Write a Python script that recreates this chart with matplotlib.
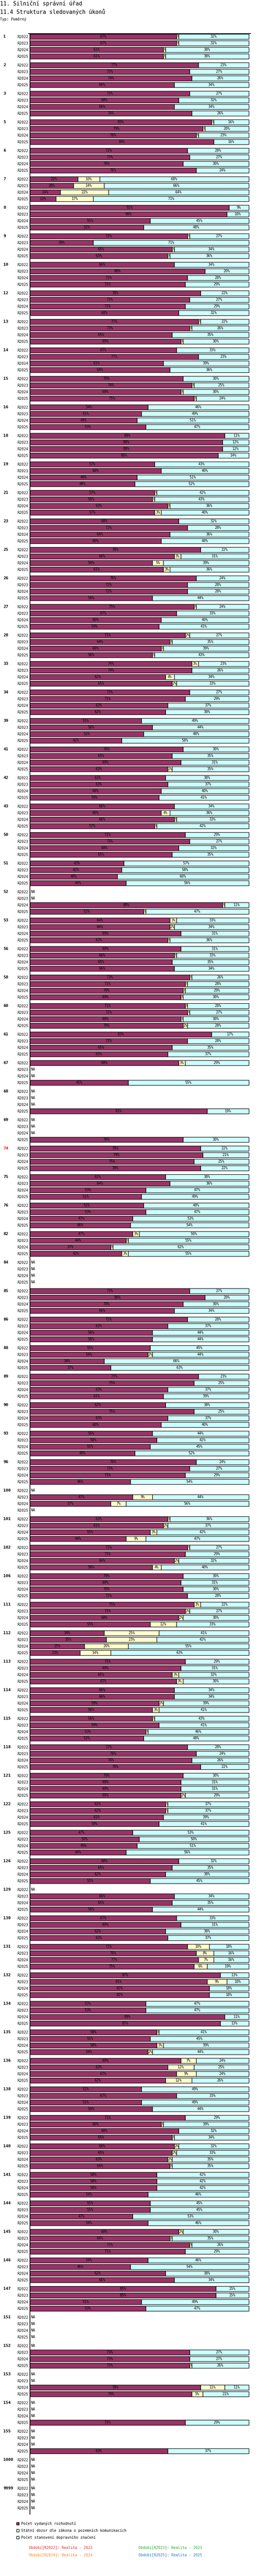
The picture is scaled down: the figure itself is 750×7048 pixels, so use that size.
"""
plot.py — 11.4 Struktura sledovaných úkonů (typ: poměrný)

Horizontal 100 % stacked bars, four periods per office, saved to out.png.

Run:
    python3 plot.py
"""

import matplotlib

matplotlib.use("Agg")
import matplotlib.pyplot as plt
from matplotlib.transforms import TransformedBbox, blended_transform_factory

NA = None

# ── data ───────────────────────────────────────────────────────────────────
GROUPS = [
    "1", "2", "3", "5", "6", "7", "8", "9", "10", "12",
    "13", "14", "15", "16", "18", "19", "21", "23", "25",
    "26", "27", "28", "33", "34", "39", "41", "42", "43",
    "50", "51", "52", "53", "56", "58", "60", "61", "67",
    "68", "69", "74", "75", "76", "82", "84", "85", "86",
    "88", "89", "90", "93", "96", "100", "101", "102", "106",
    "111", "112", "113", "114", "115", "118", "121", "122", "125",
    "126", "129", "130", "131", "132", "134", "135", "136",
    "138", "139", "140", "141", "144", "145", "146", "147", "151",
    "152", "153", "154", "155", "1000", "9999",
]
YEARS = ["R2022", "R2023", "R2024", "R2025"]
HIGHLIGHT = ["74"]

SERIES_NAMES = [
    "Počet vydaných rozhodnutí",
    "Státní dozor dle zákona o pozemních komunikacích",
    "Počet stanovení dopravního značení",
]
PERIODS = [
    "Období[R2022]: Realita - 2022",
    "Období[R2023]: Realita - 2023",
    "Období[R2024]: Realita - 2024",
    "Období[R2025]: Realita - 2025",
]

# share in %, one list of four periods (R2022..R2025) per group
ROZHODNUTI = [
    [67, 67, 61, 61], [77, 73, 74, 66], [73, 68, 66, 74], [83, 79, 76, 84],
    [72, 73, 70, 76], [22, 20, 14, 12], [91, 90, 55, 52], [72, 29, 65, 63],
    [66, 80, 72, 71], [78, 73, 71, 68],
    [77, 73, 65, 69], [67, 77, 61, 64], [70, 74, 69, 75], [54, 51, 49, 53],
    [89, 88, 88, 86], [57, 60, 49, 48], [57, 56, 63, 57], [68, 72, 64, 60],
    [78, 66, 56, 61],
    [76, 72, 72, 56], [75, 67, 60, 59], [71, 64, 60, 56], [74, 74, 62, 65],
    [73, 71, 63, 62], [51, 56, 52, 42], [70, 65, 69, 63], [62, 63, 60, 59],
    [66, 60, 66, 57],
    [71, 73, 68, 65], [43, 42, 40, 44], [NA, NA, 88, 52], [64, 64, 69, 63],
    [69, 66, 65, 66], [73, 71, 70, 69], [71, 72, 69, 70], [83, 72, 65, 63],
    [68, NA, NA, 45],
    [NA, NA, NA, 81], [NA, NA, NA, 70], [78, 79, 75, 78], [62, 64, 53, 51],
    [52, 53, 47, 46], [47, 44, 37, 42], [NA, NA, NA, NA], [73, 80, 70, 66],
    [72, 63, 56, 56],
    [55, 54, 34, 37], [77, 75, 63, 61], [62, 75, 63, 60], [56, 58, 55, 48],
    [76, 73, 71, 46], [NA, 47, 37, NA], [63, 61, 55, 44], [72, 71, 66, 56],
    [70, 69, 70, 72],
    [75, 71, 68, 55], [34, 35, 25, 23], [71, 69, 65, 67], [66, 66, 59, 56],
    [56, 59, 53, 52], [72, 76, 74, 78], [70, 69, 69, 69], [62, 62, 61, 59],
    [47, 50, 49, 44],
    [68, 65, 62, 55], [NA, 66, 65, 56], [67, 69, 62, 63], [72, 76, 77, 75],
    [87, 81, 82, 82], [53, 53, 89, 87], [58, 55, 58, 54], [69, 63, 67, 62],
    [51, 67, 51, 56], [71, 60, 68, 65], [66, 65, 63, 64], [58, 58, 58, 54],
    [55, 55, 47, 54], [68, 64, 73, 71], [54, 46, 62, 66], [85, 85, 51, 53],
    [NA, NA, NA, NA],
    [NA, 73, 73, 73], [NA, NA, 78, 74], [NA, NA, NA, 71], [NA, NA, NA, 63],
    [NA, NA, NA, NA], [NA, NA, NA, NA],
]

DOZOR = [
    [1, 1, 1, 1], [0, 0, 0, 0], [0, 0, 0, 0], [1, 1, 1, 0],
    [0, 0, 0, 0], [10, 14, 22, 17], [0, 0, 0, 0], [1, 0, 1, 1],
    [0, 0, 0, 0], [0, 0, 0, 0],
    [1, 1, 0, 1], [0, 0, 0, 0], [0, 1, 1, 1], [0, 0, 0, 0],
    [0, 0, 0, 0], [0, 0, 0, 0], [1, 1, 1, 3], [0, 0, 0, 0],
    [0, 3, 5, 3],
    [0, 0, 0, 0], [1, 0, 0, 0], [2, 1, 1, 1], [3, 0, 4, 2],
    [0, 0, 0, 0], [0, 0, 0, 0], [0, 0, 0, 2], [0, 0, 0, 0],
    [0, 4, 1, 1],
    [0, 0, 0, 0], [0, 0, 0, 0], [NA, NA, 1, 1], [3, 2, 0, 1],
    [0, 1, 0, 0], [1, 1, 1, 1], [1, 1, 1, 2], [0, 0, 0, 0],
    [3, NA, NA, 0],
    [NA, NA, NA, 0], [NA, NA, NA, 0], [0, 0, 0, 0], [0, 0, 0, 0],
    [0, 0, 0, 0], [3, 1, 1, 3], [NA, NA, NA, NA], [0, 0, 0, 0],
    [0, 0, 0, 0],
    [0, 2, 0, 0], [0, 0, 0, 0], [0, 0, 0, 0], [0, 0, 0, 0],
    [0, 0, 0, 0], [NA, 9, 7, NA], [1, 2, 3, 9], [1, 0, 2, 4],
    [0, 0, 0, 0],
    [3, 2, 2, 12], [25, 23, 20, 14], [0, 0, 3, 3], [0, 0, 2, 3],
    [1, 0, 1, 0], [0, 0, 0, 0], [0, 0, 0, 2], [1, 1, 0, 0],
    [0, 0, 0, 0],
    [0, 0, 0, 0], [NA, 0, 0, 0], [0, 0, 0, 0], [10, 8, 7, 6],
    [0, 9, 0, 0], [0, 0, 0, 0], [1, 0, 3, 2], [7, 12, 9, 12],
    [0, 0, 0, 0], [0, 1, 0, 1], [2, 2, 2, 1], [0, 0, 0, 0],
    [0, 0, 0, 0], [2, 1, 1, 0], [0, 0, 0, 0], [0, 0, 0, 0],
    [NA, NA, NA, NA],
    [NA, 0, 0, 1], [NA, NA, 11, 5], [NA, NA, NA, 0], [NA, NA, NA, 0],
    [NA, NA, NA, NA], [NA, NA, NA, NA],
]

ZNACENI = [
    [32, 32, 38, 38], [23, 27, 26, 34], [27, 32, 34, 26], [16, 20, 23, 16],
    [28, 27, 30, 24], [68, 66, 64, 71], [9, 10, 45, 48], [27, 71, 34, 36],
    [34, 20, 28, 29], [22, 27, 29, 32],
    [22, 26, 35, 30], [33, 23, 39, 36], [30, 25, 30, 24], [46, 49, 51, 47],
    [11, 12, 12, 14], [43, 40, 51, 52], [42, 43, 36, 40], [32, 28, 36, 40],
    [22, 31, 39, 36],
    [24, 28, 28, 44], [24, 33, 40, 41], [27, 35, 39, 43], [23, 26, 34, 33],
    [27, 29, 37, 38], [49, 44, 48, 58], [30, 35, 31, 35], [38, 37, 40, 41],
    [34, 36, 33, 42],
    [29, 27, 32, 35], [57, 58, 60, 56], [NA, NA, 11, 47], [33, 34, 31, 36],
    [31, 33, 35, 34], [26, 28, 29, 30], [28, 27, 30, 28], [17, 28, 35, 37],
    [29, NA, NA, 55],
    [NA, NA, NA, 19], [NA, NA, NA, 30], [22, 21, 25, 22], [38, 36, 47, 49],
    [48, 47, 53, 54], [50, 55, 62, 55], [NA, NA, NA, NA], [27, 20, 30, 34],
    [28, 37, 44, 44],
    [45, 44, 66, 63], [23, 25, 37, 39], [38, 25, 37, 40], [44, 42, 45, 52],
    [24, 27, 29, 54], [NA, 44, 56, NA], [36, 37, 42, 47], [27, 29, 32, 40],
    [30, 31, 30, 28],
    [22, 27, 30, 33], [41, 42, 55, 63], [29, 31, 32, 30], [34, 34, 39, 41],
    [43, 41, 46, 48], [28, 24, 26, 22], [30, 31, 31, 29], [37, 37, 39, 41],
    [53, 50, 51, 56],
    [32, 35, 38, 45], [NA, 34, 35, 44], [33, 31, 38, 37], [18, 16, 16, 19],
    [13, 10, 18, 18], [47, 47, 11, 13], [41, 45, 39, 44], [24, 25, 24, 26],
    [49, 33, 49, 44], [29, 39, 32, 34], [32, 33, 35, 35], [42, 42, 42, 46],
    [45, 45, 53, 46], [30, 35, 26, 29], [46, 54, 38, 34], [15, 15, 49, 47],
    [NA, NA, NA, NA],
    [NA, 27, 27, 26], [NA, NA, 11, 21], [NA, NA, NA, 29], [NA, NA, NA, 37],
    [NA, NA, NA, NA], [NA, NA, NA, NA],
]

# ── layout (pixels of the 750 x 7048 output) ──────────────────────────────
FIG_W, FIG_H = 750, 7048
AX_LEFT, AX_RIGHT = 81.5, 686
AX_TOP, AX_BOTTOM = 92, 6879
FIRST_ROW = 100          # centre of the first bar
ROW_PX, GROUP_PX = 18, 78
BAR_PX = 100 / 599       # one percent in pixels is 599/100

COLORS = ["#993366", "#FFFFCC", "#CCFFFF"]
PERIOD_COLORS = ["#d62728", "#2ca02c", "#ff7f0e", "#1f77b4"]
MONO = "DejaVu Sans Mono"
SMALL = 7.2

plt.rcParams["font.family"] = [MONO, "DejaVu Sans"]


def px_x(x):
    return x / FIG_W


def px_y(y):
    return 1 - y / FIG_H


def row_positions():
    step = GROUP_PX / ROW_PX
    return [[g * step + r for r in range(len(YEARS))] for g in range(len(GROUPS))]


# ── chart ──────────────────────────────────────────────────────────────────

def draw_bars(ax, positions):
    lefts = [[0] * len(YEARS) for _ in GROUPS]
    containers = []
    for values, color, name in zip([ROZHODNUTI, DOZOR, ZNACENI], COLORS, SERIES_NAMES):
        ys, ws, ls = [], [], []
        for g, row in enumerate(values):
            for r, v in enumerate(row):
                if v is None:
                    continue
                ys.append(positions[g][r])
                ws.append(v)
                ls.append(lefts[g][r])
                lefts[g][r] += v
        bars = ax.barh(ys, ws, left=ls, height=0.82, color=color,
                       edgecolor="black", linewidth=1.0, label=name)
        texts = ax.bar_label(bars, labels=[f"{w}%" if w else "" for w in ws],
                             label_type="center", fontsize=SMALL, color="black")
        # a label wider than its slice is cut at the slice border
        for t, rect in zip(texts, bars):
            t.set_clip_box(TransformedBbox(rect.get_bbox(), ax.transData))
            t.set_clip_on(True)
        containers.append(bars)
    return containers


def draw_na(ax, positions):
    for g in range(len(GROUPS)):
        for r in range(len(YEARS)):
            if ROZHODNUTI[g][r] is None:
                ax.text(0.55, positions[g][r], "NA", ha="left", va="center",
                        fontsize=SMALL)


def draw_labels(fig, ax, positions):
    flat = [y for rows in positions for y in rows]
    ax.set_yticks(flat, labels=YEARS * len(GROUPS))
    ax.tick_params(axis="y", which="major", length=0, pad=3.3, labelsize=SMALL)
    ax.set_xticks([])

    trans = blended_transform_factory(fig.transFigure, ax.transData)
    for g, name in enumerate(GROUPS):
        ax.text(px_x(9.5), positions[g][0], name, transform=trans,
                ha="left", va="center", fontsize=8, fontweight="bold",
                color="red" if name in HIGHLIGHT else "black")


def draw_header(fig):
    fig.text(0, px_y(2), "11. Silniční správní úřad", ha="left", va="top",
             fontsize=10.8)
    fig.text(0, px_y(24), "11.4 Struktura sledovaných úkonů", ha="left",
             va="top", fontsize=10.8)
    fig.text(0, px_y(47), "Typ: Poměrný", ha="left", va="top", fontsize=SMALL)


def draw_legend(fig, containers):
    fig.legend(handles=containers, labels=SERIES_NAMES, loc="upper left",
               bbox_to_anchor=(px_x(45), px_y(6899)), frameon=False,
               borderaxespad=0, borderpad=0, handlelength=0.7,
               handleheight=0.7, handletextpad=0.6, labelspacing=0.85,
               prop={"family": MONO, "size": SMALL})

    xs = [79, 379, 79, 379]
    ys = [6971, 6971, 6991, 6991]
    for text, color, x, y in zip(PERIODS, PERIOD_COLORS, xs, ys):
        fig.text(px_x(x), px_y(y), text, ha="left", va="center",
                 fontsize=SMALL, color=color)


def main():
    fig = plt.figure(figsize=(FIG_W / 100, FIG_H / 100), dpi=100)
    ax = fig.add_axes([px_x(AX_LEFT), px_y(AX_BOTTOM),
                       (AX_RIGHT - AX_LEFT) / FIG_W, (AX_BOTTOM - AX_TOP) / FIG_H])

    positions = row_positions()
    containers = draw_bars(ax, positions)
    draw_na(ax, positions)
    draw_labels(fig, ax, positions)

    top = -(FIRST_ROW - AX_TOP) / ROW_PX
    bottom = (AX_BOTTOM - FIRST_ROW) / ROW_PX
    ax.set_ylim(bottom, top)
    ax.set_xlim(0, (AX_RIGHT - AX_LEFT) * BAR_PX)

    ax.set_yticks([top], minor=True)
    ax.tick_params(axis="y", which="minor", length=3.6, width=1.4)
    for side in ("right", "bottom"):
        ax.spines[side].set_visible(False)
    for side in ("left", "top"):
        ax.spines[side].set_linewidth(1.4)

    draw_header(fig)
    draw_legend(fig, containers)

    fig.savefig("out.png", dpi=100)
    plt.close(fig)


if __name__ == "__main__":
    main()
